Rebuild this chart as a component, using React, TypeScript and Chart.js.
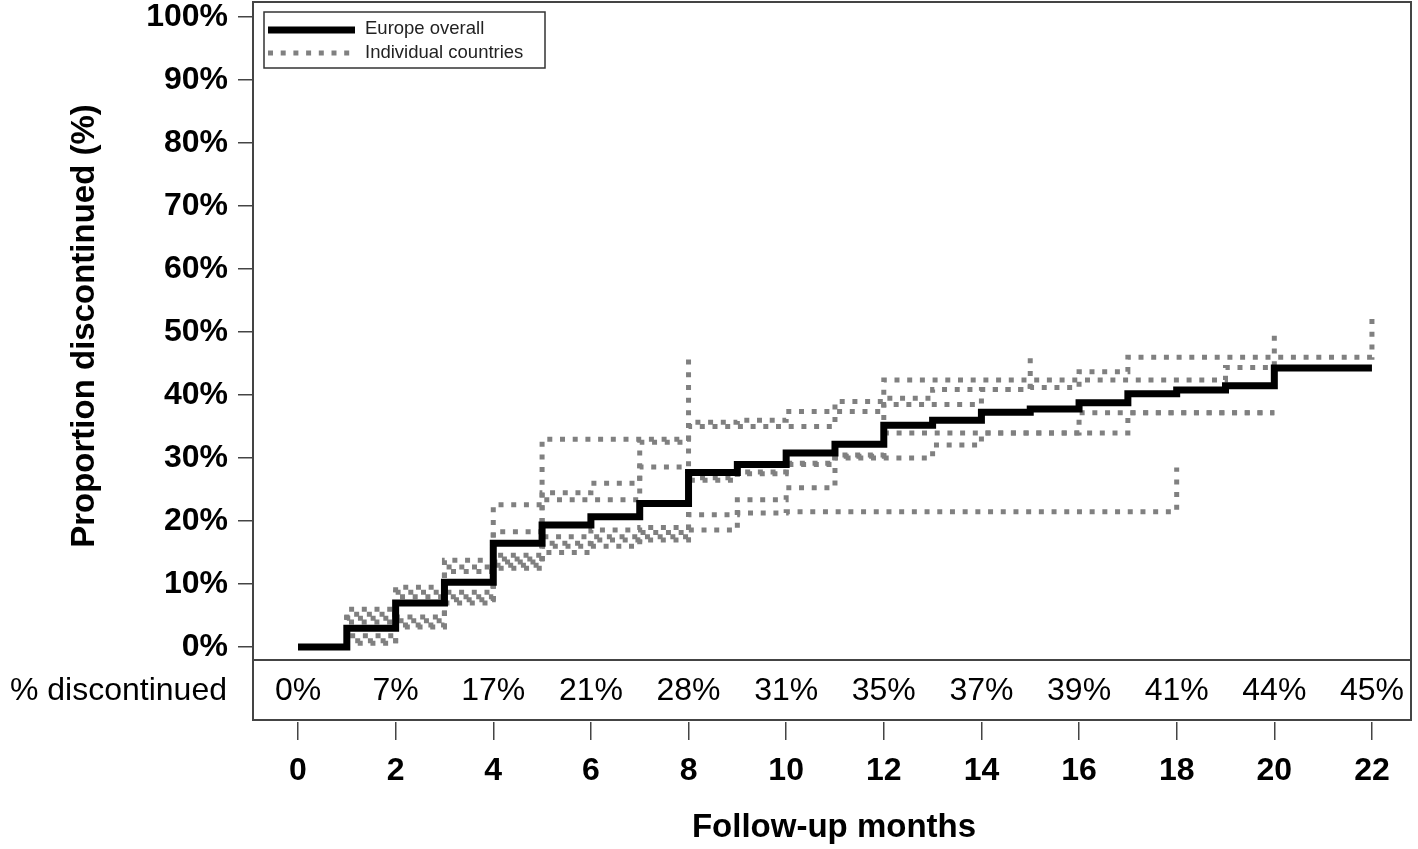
import { useEffect, useRef } from "react";
import { Chart, registerables } from "chart.js";

Chart.register(...registerables);

const FONT = '"Liberation Sans", Arial, Helvetica, sans-serif';

// Axis ticks and table
const xTickValues = [0, 2, 4, 6, 8, 10, 12, 14, 16, 18, 20, 22];
const yTickValues = [0, 10, 20, 30, 40, 50, 60, 70, 80, 90, 100];
const tableMonths = [0, 2, 4, 6, 8, 10, 12, 14, 16, 18, 20, 22];
const tableLabels = ["0%", "7%", "17%", "21%", "28%", "31%", "35%", "37%", "39%", "41%", "44%", "45%"];

// Step curves: [month, cumulative % discontinued]
const europeOverall = [
  [0, 0], [1, 3], [2, 7], [3, 10.3], [4, 16.5], [5, 19.4], [6, 20.7], [7, 22.8],
  [8, 27.7], [9, 29], [10, 30.8], [11, 32.2], [12, 35.2], [13, 36], [14, 37.3],
  [15, 37.8], [16, 38.8], [17, 40.2], [18, 40.8], [19, 41.5], [20, 44.3], [22, 44.3],
];
const countryA = [[0, 0], [1, 6], [2, 9.5], [3, 13.8], [4, 22.6], [5, 33], [8, 46]];
const countryB = [
  [0, 0], [1, 5.2], [2, 8.7], [3, 12.7], [4, 18.3], [5, 24.5], [6, 26], [7, 32.5],
  [8, 35.7], [9, 36], [10, 37.4], [12, 42.4], [16, 43.7], [17, 46], [22, 53],
];
const countryC = [
  [0, 0], [1, 4.6], [2, 8], [3, 12], [4, 14.6], [5, 23.4], [7, 28.6], [8, 35],
  [11, 39], [12, 39.5], [13, 40.9], [15, 46.7],
];
const countryD = [
  [0, 0], [1, 1.8], [2, 4.2], [3, 8], [4, 13.5], [5, 16.5], [6, 17.5], [7, 18.2],
  [8, 26.5], [9, 27.5], [10, 29], [11, 30.5], [12, 38.5], [14, 40.9], [15, 41.2],
  [16, 42.4], [19, 44.4], [20, 50],
];
const countryE = [
  [0, 0], [1, 1.0], [2, 3.5], [3, 7.5], [4, 13], [5, 16], [6, 17], [7, 17.5],
  [8, 21], [9, 23.4], [10, 25.3], [11, 30], [13, 32.1], [14, 34], [17, 37.2], [20, 37.2],
];
const countryF = [
  [0, 0], [1, 4], [2, 4.8], [3, 8.7], [4, 14], [5, 17.5], [6, 18.6], [7, 19],
  [8, 26.9], [9, 27.8], [10, 29.2], [11, 30.3], [12, 34], [16, 37.2], [20, 37.2],
];
const countryG = [
  [0, 0], [1, 0.6], [2, 3.2], [3, 7], [4, 12.5], [5, 15], [6, 16], [7, 17],
  [8, 18.6], [9, 21.3], [10, 21.5], [18, 28.5],
];
const countries = [countryA, countryB, countryC, countryD, countryE, countryF, countryG];

const GREY = "#808080";
const DASH = [5, 7.7];

const toPoints = (arr: number[][]) => arr.map(([x, y]) => ({ x, y }));

export default function App() {
  const ref = useRef<HTMLCanvasElement>(null);

  useEffect(() => {
    if (!ref.current) return;

    const framePlugin = {
      id: "frame",
      beforeDatasetsDraw(chart: any) {
        const { ctx, chartArea: ca } = chart;
        const tableTop = ca.bottom - 62;
        ctx.save();
        ctx.strokeStyle = "#444";
        ctx.lineWidth = 2;
        ctx.strokeRect(ca.left, ca.top, ca.right - ca.left, tableTop - ca.top);
        ctx.strokeRect(ca.left, tableTop, ca.right - ca.left, ca.bottom - tableTop - 2);
        ctx.restore();
      },
      afterDraw(chart: any) {
        const { ctx, chartArea: ca, scales } = chart;
        const tableTop = ca.bottom - 62;
        const tableMid = (tableTop + ca.bottom - 2) / 2 + 1;
        ctx.save();
        ctx.fillStyle = "#000";
        // table row
        ctx.font = `32px ${FONT}`;
        ctx.textBaseline = "middle";
        ctx.textAlign = "right";
        ctx.fillText("% discontinued", 227, tableMid);
        ctx.textAlign = "center";
        tableMonths.forEach((m, i) => {
          ctx.fillText(tableLabels[i], scales.x.getPixelForValue(m), tableMid);
        });
        // axis titles
        ctx.font = `bold 33px ${FONT}`;
        ctx.fillText("Follow-up months", (ca.left + ca.right) / 2 + 2, 828);
        ctx.save();
        ctx.translate(85, 326);
        ctx.rotate(-Math.PI / 2);
        ctx.fillText("Proportion discontinued (%)", 0, 0);
        ctx.restore();
        // legend
        const lx = ca.left + 11;
        const ly = ca.top + 10;
        ctx.strokeStyle = "#333";
        ctx.lineWidth = 1.5;
        ctx.strokeRect(lx, ly, 281, 56);
        ctx.beginPath();
        ctx.strokeStyle = "#000";
        ctx.lineWidth = 7;
        ctx.moveTo(lx + 4, ly + 18);
        ctx.lineTo(lx + 91, ly + 18);
        ctx.stroke();
        ctx.beginPath();
        ctx.strokeStyle = GREY;
        ctx.lineWidth = 5;
        ctx.setLineDash(DASH);
        ctx.moveTo(lx + 4, ly + 41);
        ctx.lineTo(lx + 91, ly + 41);
        ctx.stroke();
        ctx.setLineDash([]);
        ctx.fillStyle = "#222";
        ctx.font = `18.5px ${FONT}`;
        ctx.textAlign = "left";
        ctx.fillText("Europe overall", lx + 101, ly + 17);
        ctx.fillText("Individual countries", lx + 101, ly + 41);
        ctx.restore();
      },
    };

    const datasets: any[] = [
      {
        label: "Europe overall",
        data: toPoints(europeOverall),
        borderColor: "#000",
        borderWidth: 7,
        stepped: true,
        pointRadius: 0,
        fill: false,
        order: 0,
        borderCapStyle: "butt",
        borderJoinStyle: "miter",
      },
      ...countries.map((c, i) => ({
        label: `Country ${i + 1}`,
        data: toPoints(c),
        borderColor: GREY,
        borderWidth: 5,
        borderDash: DASH,
        stepped: true,
        pointRadius: 0,
        fill: false,
        order: 1,
        borderCapStyle: "butt",
      })),
    ];

    const chart = new Chart(ref.current, {
      type: "line",
      data: { datasets },
      options: {
        responsive: false,
        maintainAspectRatio: false,
        animation: false,
        devicePixelRatio: 1,
        layout: { padding: { left: 0, right: 7, top: 2, bottom: 0 } },
        plugins: { legend: { display: false }, tooltip: { enabled: false } },
        events: [],
        scales: {
          x: {
            type: "linear",
            min: -0.922,
            max: 22.8,
            afterBuildTicks: (scale: any) => {
              scale.ticks = xTickValues.map((v) => ({ value: v }));
            },
            afterFit: (scale: any) => {
              scale.height = 127;
              scale.paddingLeft = 0;
              scale.paddingRight = 0;
            },
            grid: { drawOnChartArea: false, drawTicks: true, tickLength: 18, color: "#444", lineWidth: 1.5 },
            border: { display: false },
            ticks: {
              autoSkip: false,
              maxRotation: 0,
              color: "#000",
              padding: 12,
              font: { family: FONT, size: 32, weight: "bold" },
            },
          },
          y: {
            type: "linear",
            min: -11.886,
            max: 102.4,
            afterBuildTicks: (scale: any) => {
              scale.ticks = yTickValues.map((v) => ({ value: v }));
            },
            afterFit: (scale: any) => {
              scale.width = 253;
              scale.paddingTop = 0;
              scale.paddingBottom = 0;
            },
            grid: { drawOnChartArea: false, drawTicks: true, tickLength: 15, color: "#444", lineWidth: 1.5 },
            border: { display: false },
            ticks: {
              autoSkip: false,
              color: "#000",
              padding: 10,
              callback: (v: any) => `${v}%`,
              font: { family: FONT, size: 32, weight: "bold" },
            },
          },
        },
      },
      plugins: [framePlugin],
    });

    return () => chart.destroy();
  }, []);

  return (
    <div style={{ position: "fixed", left: 0, top: 0, width: 1418, height: 849, background: "#fff" }}>
      <canvas ref={ref} width={1418} height={849} style={{ width: 1418, height: 849, display: "block" }} />
    </div>
  );
}
